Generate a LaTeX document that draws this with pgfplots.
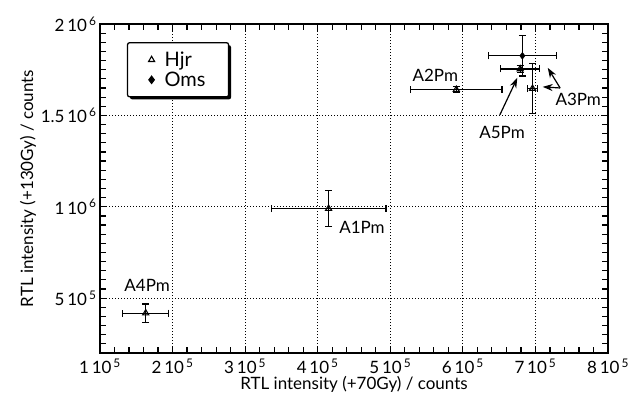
\documentclass[border=0pt]{standalone}
\usepackage{pgfplots}
\pgfplotsset{compat=1.18}
\usepackage{pgfplotstable}
\usepackage{fontspec}
\setmainfont{Lato}
\usetikzlibrary{shadows,arrows.meta}

\pgfplotstableread{
x y ex ey
163000 418000 31500 50000
415000 990000 79000 100000
591000 1641000 63000 15000
679000 1754000 27000 20000
696000 1647000 7000 137000
}\hjr
\pgfplotstableread{
x y ex ey
682000 1826000 47000 110000
}\oms

\newcommand{\sx}[2]{#1\,10\textsuperscript{\,#2}}
\begin{document}
\begin{tikzpicture}
\path (0,0) rectangle (637pt,407pt);
\begin{axis}[
  at={(100pt,54pt)}, anchor=south west,
  scale only axis, width=508pt, height=329pt,
  xmin=100000, xmax=800000, ymin=200000, ymax=2000000,
  xtick={100000,200000,300000,400000,500000,600000,700000,800000},
  xticklabels={\sx{1}{5},\sx{2}{5},\sx{3}{5},\sx{4}{5},\sx{5}{5},\sx{6}{5},\sx{7}{5},\sx{8}{5}},
  ytick={500000,1000000,1500000,2000000},
  yticklabels={\sx{5}{5},\sx{1}{6},\sx{1.5}{6},\sx{2}{6}},
  scaled ticks=false,
  minor x tick num=4, minor y tick num=9,
  major tick length=7pt, minor tick length=6pt,
  every tick/.style={black, line width=1.2pt},
  every minor tick/.style={black, line width=1.2pt},
  xmajorgrids, ymajorgrids,
  major grid style={black, line width=1.1pt, dash pattern=on 1.3pt off 1.7pt},
  axis line style={line width=1.5pt},
  tick label style={font=\fontsize{17}{19}\selectfont},
  xlabel style={font=\fontsize{17}{19}\selectfont, yshift=4pt},
  ylabel style={font=\fontsize{17}{19}\selectfont, yshift=-2pt},
  xticklabel style={yshift=-2pt},
  xlabel={RTL intensity (+70Gy) / counts},
  ylabel={RTL intensity (+130Gy) / counts},
  legend style={at={(0.053,0.945)}, anchor=north west, draw=black, line width=1.3pt,
    rounded corners=2pt, drop shadow={shadow xshift=2.5pt, shadow yshift=-2.5pt, fill=black, opacity=1},
    font=\fontsize{20}{22}\selectfont, inner xsep=21pt, inner ysep=7pt, row sep=0pt},
  legend cell align=left,
]
\addplot[only marks, mark=triangle, mark size=3.5pt, mark options={line width=1.1pt, fill=white}, black,
  error bars/.cd, x dir=both, x explicit, y dir=both, y explicit,
  error bar style={line width=1.2pt}, error mark options={rotate=90, mark size=3.5pt, line width=1.2pt}]
  table[x=x, y=y, x error=ex, y error=ey] {\hjr};
\addlegendentry{\hspace{8pt}Hjr}
\addplot[only marks, mark=diamond*, mark size=3.5pt, black,
  error bars/.cd, x dir=both, x explicit, y dir=both, y explicit,
  error bar style={line width=1.2pt}, error mark options={rotate=90, mark size=3.5pt, line width=1.2pt}]
  table[x=x, y=y, x error=ex, y error=ey] {\oms};
\addlegendentry{\hspace{8pt}Oms}

\pgfplotsinvokeforeach{120000,140000,160000,180000,220000,240000,260000,280000,320000,340000,360000,380000,420000,440000,460000,480000,520000,540000,560000,580000,620000,640000,660000,680000,720000,740000,760000,780000}{
  \draw[line width=1.2pt] (axis cs:#1,200000) -- ++(0pt,6pt);
  \draw[line width=1.2pt] (axis cs:#1,2000000) -- ++(0pt,-6pt);
}
\pgfplotsinvokeforeach{250000,300000,350000,400000,450000,550000,600000,650000,700000,750000,800000,850000,900000,950000,1050000,1100000,1150000,1200000,1250000,1300000,1350000,1400000,1450000,1550000,1600000,1650000,1700000,1750000,1800000,1850000,1900000,1950000}{
  \draw[line width=1.2pt] (axis cs:100000,#1) -- ++(6pt,0pt);
  \draw[line width=1.2pt] (axis cs:800000,#1) -- ++(-6pt,0pt);
}

\tikzset{lab/.style={font=\fontsize{17}{19}\selectfont}}
\node[lab] at (axis cs:562000,1721000) {A2Pm};
\node[lab] at (axis cs:654000,1404000) {A5Pm};
\node[lab] at (axis cs:759000,1590000) {A3Pm};
\node[lab] at (axis cs:461000,885000) {A1Pm};
\node[lab] at (axis cs:165000,568000) {A4Pm};
\draw[line width=1.2pt, -{Stealth[length=10pt,width=7pt]}] (axis cs:651000,1503000) -- (axis cs:675000,1705000);
\draw[line width=1.2pt, -{Stealth[length=10pt,width=7pt]}] (axis cs:734000,1650000) -- (axis cs:710000,1656000);
\draw[line width=1.2pt, -{Stealth[length=10pt,width=7pt]}] (axis cs:734000,1650000) -- (axis cs:717000,1760000);
\end{axis}
\end{tikzpicture}
\end{document}
